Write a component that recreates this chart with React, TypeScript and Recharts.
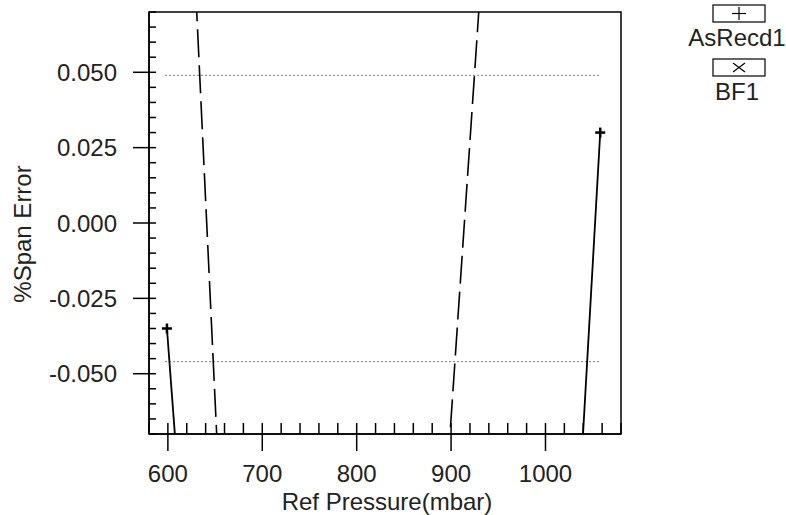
import {
  Legend,
  Line,
  LineChart,
  ReferenceArea,
  ReferenceLine,
  XAxis,
  YAxis,
} from "recharts"

// AsRecd1 (solid, "+" marks) and BF1 (dashed, "x" marks); the middle points run far off the plot
const asRecdX = [599, 853, 1058]
const asRecdY = [-0.035, -1.095, 0.03]
const bfX = [599, 753, 1058]
const bfY = [0.279, -0.741, 0.662]

// dotted limit lines
const limitX = [597, 1058]
const upperLimit = 0.049
const lowerLimit = -0.046

const xDomain = [580, 1080]
const yDomain = [-0.07, 0.07]
const xMajorTicks = [600, 700, 800, 900, 1000]
const xMinorTicks = [
  580, 600, 620, 640, 660, 680, 700, 720, 740, 760, 780, 800, 820, 840, 860,
  880, 900, 920, 940, 960, 980, 1000, 1020, 1040, 1060, 1080,
]
const yMajorTicks = [-0.05, -0.025, 0, 0.025, 0.05]
const yMinorTicks = [
  -0.07, -0.065, -0.06, -0.055, -0.05, -0.045, -0.04, -0.035, -0.03, -0.025,
  -0.02, -0.015, -0.01, -0.005, 0, 0.005, 0.01, 0.015, 0.02, 0.025, 0.03,
  0.035, 0.04, 0.045, 0.05, 0.055, 0.06, 0.065, 0.07,
]

const asRecdData = asRecdX.map((x, i) => ({ x, y: asRecdY[i] }))
const bfData = bfX.map((x, i) => ({ x, y: bfY[i] }))

const font = "'Liberation Sans', Arial, sans-serif"
const ink = "#222"

const isMajor = (list: number[], v: number) =>
  list.some((m) => Math.abs(m - v) < 1e-9)

function XTick(props: any) {
  const { x, y, payload } = props
  const v = payload.value
  const major = isMajor(xMajorTicks, v)
  return (
    <g>
      <line x1={x} x2={x} y1={y - 11} y2={y} stroke="#000" strokeWidth={1.5} />
      {major && (
        <line x1={x} x2={x} y1={y} y2={y + 17} stroke="#000" strokeWidth={1.5} />
      )}
      {major && (
        <text
          x={x}
          y={y + 48}
          textAnchor="middle"
          fontFamily={font}
          fontSize={24}
          fill={ink}
        >
          {v}
        </text>
      )}
    </g>
  )
}

function YTick(props: any) {
  const { x, y, payload } = props
  const v = payload.value
  const major = isMajor(yMajorTicks, v)
  return (
    <g>
      <line x1={x} x2={x + 7} y1={y} y2={y} stroke="#000" strokeWidth={1.5} />
      {major && (
        <line x1={x - 16} x2={x} y1={y} y2={y} stroke="#000" strokeWidth={1.5} />
      )}
      {major && (
        <text
          x={x - 32}
          y={y}
          dy="0.36em"
          textAnchor="end"
          fontFamily={font}
          fontSize={24}
          fill={ink}
        >
          {v.toFixed(3)}
        </text>
      )}
    </g>
  )
}

function PlusDot(props: any) {
  const { cx, cy } = props
  if (cx == null || cy == null) return null
  return (
    <g>
      <line x1={cx - 5} x2={cx + 5} y1={cy} y2={cy} stroke="#000" strokeWidth={2.5} />
      <line x1={cx} x2={cx} y1={cy - 5} y2={cy + 5} stroke="#000" strokeWidth={2.5} />
    </g>
  )
}

function CrossDot(props: any) {
  const { cx, cy } = props
  if (cx == null || cy == null) return null
  return (
    <g>
      <line x1={cx - 4} x2={cx + 4} y1={cy - 4} y2={cy + 4} stroke="#000" strokeWidth={2} />
      <line x1={cx - 4} x2={cx + 4} y1={cy + 4} y2={cy - 4} stroke="#000" strokeWidth={2} />
    </g>
  )
}

function LegendBox() {
  return (
    <svg width={106} height={110}>
      <rect x={33} y={5} width={52} height={17} fill="none" stroke="#000" strokeWidth={1.2} />
      <line x1={52} x2={66} y1={13.5} y2={13.5} stroke="#000" strokeWidth={1.2} />
      <line x1={59} x2={59} y1={7} y2={20} stroke="#000" strokeWidth={1.2} />
      <text x={57} y={46} textAnchor="middle" fontFamily={font} fontSize={24} fill={ink}>
        AsRecd1
      </text>
      <rect x={33} y={59} width={52} height={17} fill="none" stroke="#000" strokeWidth={1.2} />
      <line x1={53} x2={65} y1={63} y2={72} stroke="#000" strokeWidth={1.2} />
      <line x1={53} x2={65} y1={72} y2={63} stroke="#000" strokeWidth={1.2} />
      <text x={57} y={100} textAnchor="middle" fontFamily={font} fontSize={24} fill={ink}>
        BF1
      </text>
    </svg>
  )
}

function YTitle(props: any) {
  const { viewBox } = props
  const cx = viewBox.x + 22
  const cy = viewBox.y + viewBox.height / 2 + 11
  return (
    <text
      x={cx}
      y={cy}
      dy="0.36em"
      textAnchor="middle"
      transform={`rotate(-90 ${cx} ${cy})`}
      fontFamily={font}
      fontSize={24}
      fill={ink}
    >
      %Span Error
    </text>
  )
}

function XTitle(props: any) {
  const { viewBox } = props
  return (
    <text
      x={viewBox.x + viewBox.width / 2 + 2}
      y={510}
      textAnchor="middle"
      fontFamily={font}
      fontSize={24}
      fill={ink}
    >
      Ref Pressure(mbar)
    </text>
  )
}

export default function App() {
  return (
    <div style={{ position: "absolute", left: 0, top: 0, background: "#fff" }}>
      <LineChart
        width={786}
        height={515}
        margin={{ top: 12, right: 165, bottom: 0, left: 0 }}
      >
        <XAxis
          type="number"
          dataKey="x"
          domain={xDomain}
          allowDataOverflow
          ticks={xMinorTicks}
          interval={0}
          tick={<XTick />}
          tickLine={false}
          tickSize={0}
          tickMargin={0}
          height={81}
          axisLine={{ stroke: "#000", strokeWidth: 1.5 }}
          label={{ content: <XTitle /> }}
        />
        <YAxis
          type="number"
          dataKey="y"
          domain={yDomain}
          allowDataOverflow
          ticks={yMinorTicks}
          interval={0}
          tick={<YTick />}
          tickLine={false}
          tickSize={0}
          tickMargin={0}
          width={149}
          axisLine={{ stroke: "#000", strokeWidth: 1.5 }}
          label={{ content: <YTitle /> }}
        />
        <ReferenceArea
          x1={xDomain[0]}
          x2={xDomain[1]}
          y1={yDomain[0]}
          y2={yDomain[1]}
          fill="none"
          stroke="#000"
          strokeWidth={1.5}
          fillOpacity={0}
        />
        <ReferenceLine
          segment={[
            { x: limitX[0], y: upperLimit },
            { x: limitX[1], y: upperLimit },
          ]}
          stroke="#777"
          strokeDasharray="2 2"
        />
        <ReferenceLine
          segment={[
            { x: limitX[0], y: lowerLimit },
            { x: limitX[1], y: lowerLimit },
          ]}
          stroke="#777"
          strokeDasharray="2 2"
        />
        <Line
          data={asRecdData}
          dataKey="y"
          name="AsRecd1"
          type="linear"
          stroke="#000"
          strokeWidth={1.8}
          dot={<PlusDot />}
          activeDot={false}
          isAnimationActive={false}
        />
        <Line
          data={bfData}
          dataKey="y"
          name="BF1"
          type="linear"
          stroke="#000"
          strokeWidth={1.6}
          strokeDasharray="28 8"
          dot={<CrossDot />}
          activeDot={false}
          isAnimationActive={false}
        />
        <Legend
          layout="vertical"
          align="center"
          verticalAlign="middle"
          wrapperStyle={{ left: 680, top: 0, width: 106 }}
          content={() => <LegendBox />}
        />
      </LineChart>
    </div>
  )
}
